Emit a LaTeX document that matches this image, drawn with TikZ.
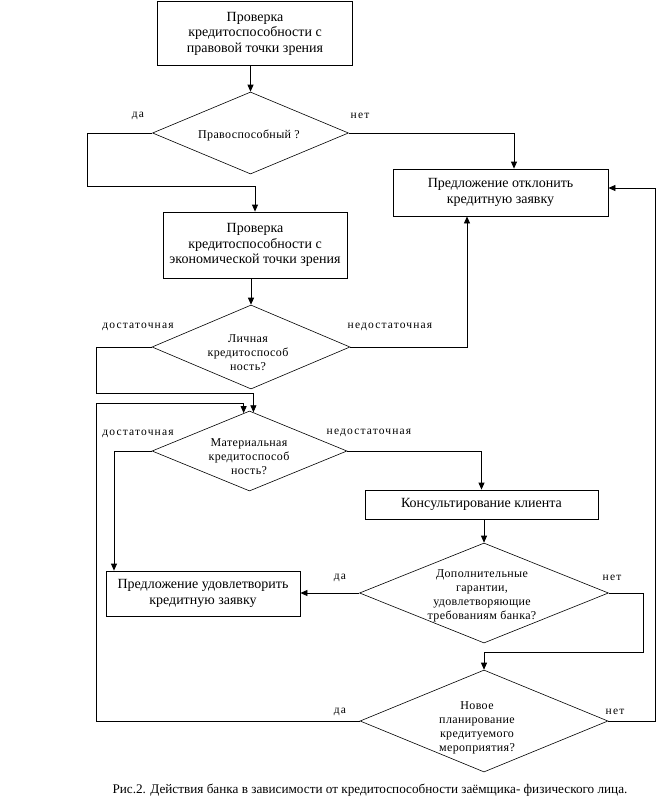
\documentclass[tikz,border=0pt]{standalone}
\usepackage{fontspec}
\setmainfont{Liberation Serif}
\newfontfamily\lblfont[LetterSpace=10]{Liberation Serif}
\newfontfamily\diafont[LetterSpace=3]{Liberation Serif}
\usetikzlibrary{shapes.geometric,arrows.meta,calc}
\begin{document}
\begin{tikzpicture}[x=1pt,y=-1pt,
  box/.style={draw, line width=0.8pt, inner sep=0pt, align=center, font=\fontsize{14}{15.5}\selectfont},
  dia/.style={draw, diamond, line width=0.6pt, inner sep=0pt},
  dtext/.style={align=center, inner sep=0pt, font=\diafont\fontsize{12}{14}\selectfont},
  lbl/.style={inner sep=0pt, font=\lblfont\fontsize{11.5}{13}\selectfont},
  conn/.style={line width=0.8pt},
  arr/.style={conn, -{Triangle[length=7pt,width=6pt]}}
]
\useasboundingbox (0,0) rectangle (661,808);

% boxes
\node[box, minimum width=195pt, minimum height=64pt] (box1) at (255,33.5)
  {Проверка\\кредитоспособности с\\правовой точки зрения};
\node[box, minimum width=184pt, minimum height=66pt] (box2) at (255,245)
  {Проверка\\кредитоспособности с\\экономической точки зрения};
\node[box, minimum width=215pt, minimum height=47pt] (box3) at (500.5,192.5)
  {Предложение отклонить\\кредитную заявку};
\node[box, minimum width=194pt, minimum height=45pt] (box4) at (203,593.5)
  {Предложение удовлетворить\\кредитную заявку};
\node[box, minimum width=233pt, minimum height=29pt] (box5) at (481.5,504.5)
  {Консультирование клиента};

% diamonds
\node[dia, minimum width=196pt, minimum height=82pt] (d1) at (250.5,133) {};
\node[dia, minimum width=198pt, minimum height=84pt] (d2) at (251,347) {};
\node[dia, minimum width=195pt, minimum height=80pt] (d3) at (249.5,451) {};
\node[dia, minimum width=249pt, minimum height=100pt] (d4) at (484,593) {};
\node[dia, minimum width=248pt, minimum height=102pt] (d5) at (484,721) {};

\node[dtext] (d1t) at (249,135) {Правоспособный ?};
\node[dtext] (d2t) at (248,353) {Личная\\кредитоспособ\\ность?};
\node[dtext] (d3t) at (249,457) {Материальная\\кредитоспособ\\ность?};
\node[dtext] (d4t) at (482,596) {Дополнительные\\гарантии,\\удовлетворяющие\\требованиям банка?};
\node[dtext] (d5t) at (477,728) {Новое\\планирование\\кредитуемого\\мероприятия?};

% labels
\node[lbl] (l1) at (138,116) {да};
\node[lbl] (l2) at (360,116) {нет};
\node[lbl] (l3) at (138,327) {достаточная};
\node[lbl] (l4) at (390,327) {недостаточная};
\node[lbl] (l5) at (138,434) {достаточная};
\node[lbl] (l6) at (369,433) {недостаточная};
\node[lbl] (l7) at (340,578) {да};
\node[lbl] (l8) at (612,578) {нет};
\node[lbl] (l9) at (340,712) {да};
\node[lbl] (l10) at (615,712) {нет};

% caption
\node[inner sep=0pt, font=\fontsize{13.2}{16}\selectfont] (cap) at (370,790)
  {Рис.2. Действия банка в зависимости от кредитоспособности заёмщика- физического лица.};

% helper coordinates
\coordinate (k1) at (87,186);
\coordinate (k2) at (514,133);
\coordinate (x3) at (467,0);
\coordinate (k4) at (96,393);
\coordinate (e1) at ($(d3.north)!0.04!(d3.east)$);
\coordinate (x4) at (114,0);
\coordinate (k5) at (643,652);
\coordinate (k6) at (655,188);
\coordinate (k7) at (96,403);
\coordinate (e2) at ($(d3.north)!0.06!(d3.west)$);

% connectors
\draw[arr] (d1.north |- box1.south) -- (d1.north);
\draw[arr] (d1.west) -| (k1) -| (box2.north);
\draw[arr] (d1.east) -- (k2) -- (k2 |- box3.north);
\draw[arr] (d2.north |- box2.south) -- (d2.north);
\draw[arr] (d2.east) -| (x3 |- box3.south);
\draw[arr] (d2.west) -| (k4) -| (e1);
\draw[arr] (d3.west) -| (x4 |- box4.north);
\draw[arr] (d3.east) -| (box5.north);
\draw[arr] (d4.north |- box5.south) -- (d4.north);
\draw[arr] (d4.west) -- (d4.west -| box4.east);
\draw[arr] (d4.east) -| (k5) -| (d5.north);
\draw[arr] (d5.east) -| (k6) -- (k6 -| box3.east);
\draw[arr] (d5.west) -| (k7) -| (e2);
\end{tikzpicture}
\end{document}
